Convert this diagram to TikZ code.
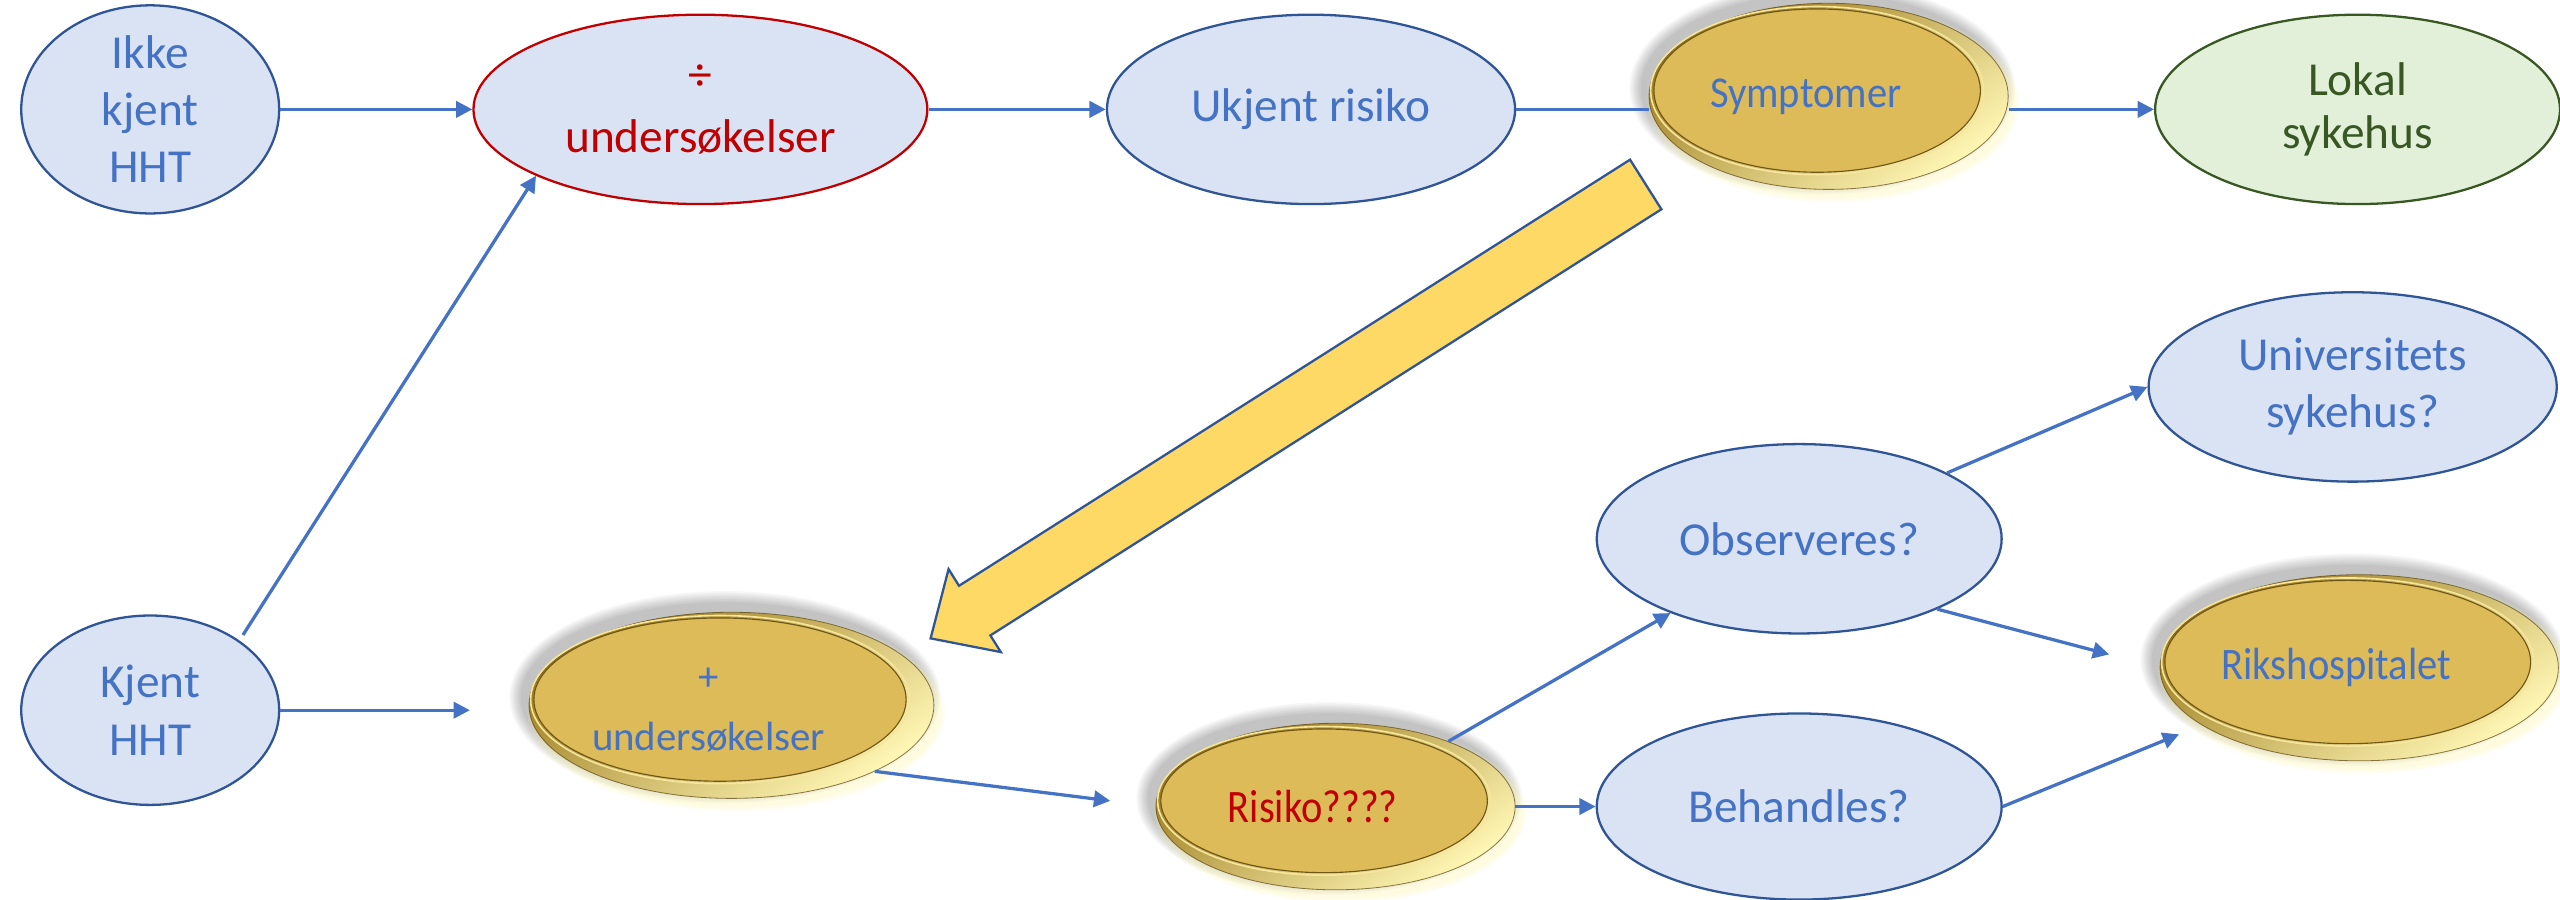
\documentclass[tikz,border=0pt]{standalone}
\usepackage{fontspec}
\usepackage{graphicx}
\setmainfont{Carlito}
\usetikzlibrary{shapes.geometric,calc,arrows.meta}

\definecolor{nodefill}{HTML}{DAE3F3}
\definecolor{nodeline}{HTML}{2F5597}
\definecolor{txtblue}{HTML}{4472C4}
\definecolor{txtred}{HTML}{C00000}
\definecolor{greenfill}{HTML}{E2F0D9}
\definecolor{greenline}{HTML}{385723}
\definecolor{arrowfill}{HTML}{FFD966}
\definecolor{goldDark}{HTML}{9C7A1C}
\definecolor{goldMid}{HTML}{E3C35C}
\definecolor{goldLight}{HTML}{FFF7B5}
\definecolor{goldFace}{HTML}{DEBB59}
\definecolor{goldLine}{HTML}{6F5817}
\definecolor{goldHi}{HTML}{F6E59A}
\definecolor{goldEdge}{HTML}{5A4510}

\tikzset{
  bub/.style={ellipse, draw=nodeline, fill=nodefill, line width=1.4pt,
    text=txtblue, align=center, inner sep=0pt,
    font=\fontsize{29}{35}\selectfont},
  goldshape/.style={ellipse, inner sep=0pt},
  goldtext/.style={inner sep=0pt, align=center, text=txtblue,
    font=\fontsize{27}{37}\selectfont},
  conn/.style={draw=txtblue, line width=2pt,
    -{Triangle[length=10pt,width=10pt]}},
  plainconn/.style={draw=txtblue, line width=2pt},
  bigarrow/.style={fill=arrowfill, draw=nodeline, line width=1.4pt,
    line join=miter}
}

% gilded oval: name, x, y, rx, ry, text options, text
\newcommand{\goldoval}[7]{%
  \foreach \k in {1,...,8}{\fill[black,opacity=.03] ({#2-4},{#3-5}) ellipse ({#4+\k} and {#5+\k});}
  \foreach \k in {1,...,4}{\fill[goldLight,opacity=.12] ({#2+3},{#3+4}) ellipse ({#4+\k} and {#5+\k});}
  \shade[shading=axis, top color=goldDark, middle color=goldMid,
    bottom color=goldLight, shading angle=35] (#2,#3) ellipse (#4 and #5);
  \draw[goldEdge, line width=.5pt, opacity=.7] (#2,#3) ellipse (#4 and #5);
  \draw[goldHi, line width=1pt] ({#2-7},{#3-3.5}) ellipse ({#4-8} and {#5-5.5});
  \fill[goldFace, draw=goldLine, line width=.7pt] ({#2-7},{#3-3.5}) ellipse ({#4-10} and {#5-7});
  \node[goldshape, minimum width=2*#4pt, minimum height=2*#5pt] (#1) at (#2,#3) {};
  \node[goldtext, #6] (#1-text) at ({#2-14},{#3}) {#7};
}

\begin{document}
\begin{tikzpicture}[x=1pt, y=-1pt]
\useasboundingbox (0,0) rectangle (1568,551);
\fill[white] (0,0) rectangle (1568,551);

% plain ovals
\node[bub, minimum width=158pt, minimum height=116pt] (ikke) at (92,67) {Ikke\\kjent\\HHT};
\node[bub, draw=txtred, text=txtred, minimum width=278pt, minimum height=116pt,
  font=\fontsize{29}{38}\selectfont] (neg) at (429,67) {÷\\undersøkelser};
\node[bub, minimum width=250pt, minimum height=116pt] (ukj) at (803,67) {Ukjent risiko};
\node[bub, fill=greenfill, draw=greenline, text=greenline, minimum width=248pt,
  minimum height=116pt, font=\fontsize{29}{32}\selectfont] (lokal) at (1444,67) {Lokal\\sykehus};
\node[bub, minimum width=250pt, minimum height=116pt] (univ) at (1441,237) {Universitets\\sykehus?};
\node[bub, minimum width=248pt, minimum height=116pt] (obs) at (1102,330) {Observeres?};
\node[bub, minimum width=158pt, minimum height=116pt] (kjent) at (92,435) {Kjent\\HHT};
\node[bub, minimum width=248pt, minimum height=114pt] (beh) at (1102,494) {Behandles?};

% gilded ovals
\goldoval{sym}{1120}{59}{110}{57}{}{\scalebox{.92}[1]{Symptomer}}
\goldoval{riks}{1445}{409}{122}{57}{font=\fontsize{27.6}{30}\selectfont}{\scalebox{.9}[1]{Rikshospitalet}}
\goldoval{plus}{448}{432}{124}{57}{yshift=-3pt, font=\fontsize{25}{37}\selectfont}{+\\undersøkelser}
\goldoval{risiko}{818}{494}{110}{51}{text=txtred, font=\fontsize{28.5}{30}\selectfont}{\scalebox{.87}[1]{Risiko????}}

% connectors
\draw[conn] (ikke.east) -- (neg.west);
\draw[conn] (neg.east) -- (ukj.west);
\draw[plainconn] (ukj.east) -- (ukj.east -| sym.west);
\draw[conn] (sym.east |- lokal.west) -- (lokal.west);
\draw[conn, shorten <=4pt] (kjent.38) -- (neg.202);
\draw[conn, shorten >=36pt] (kjent.east) -- (kjent.east -| plus.west);
\draw[conn, shorten >=28pt] (plus.south east) -- (risiko.west);
\draw[conn] (risiko.east) -- (beh.west);
\draw[conn] (risiko) -- (obs);
\draw[conn] (obs.24) -- (univ.west);
\draw[conn, shorten >=32pt] (obs.-27) -- (riks.west);
\draw[conn, shorten >=15pt] (beh.east) -- (riks.200);

% block arrow from the symptoms down to the extended examinations
\coordinate (tailA) at (998.4,97.8);
\coordinate (tailB) at (1017.6,128.2);
\coordinate (neckB) at (606.6,389.2);
\coordinate (barbB) at (613,399.4);
\coordinate (tip) at (570,391);
\coordinate (barbA) at (581,348.6);
\coordinate (neckA) at (587.4,358.8);
\draw[bigarrow] (tailA) -- (tailB) -- (neckB) -- (barbB) -- (tip) -- (barbA) -- (neckA) -- cycle;
\end{tikzpicture}
\end{document}
